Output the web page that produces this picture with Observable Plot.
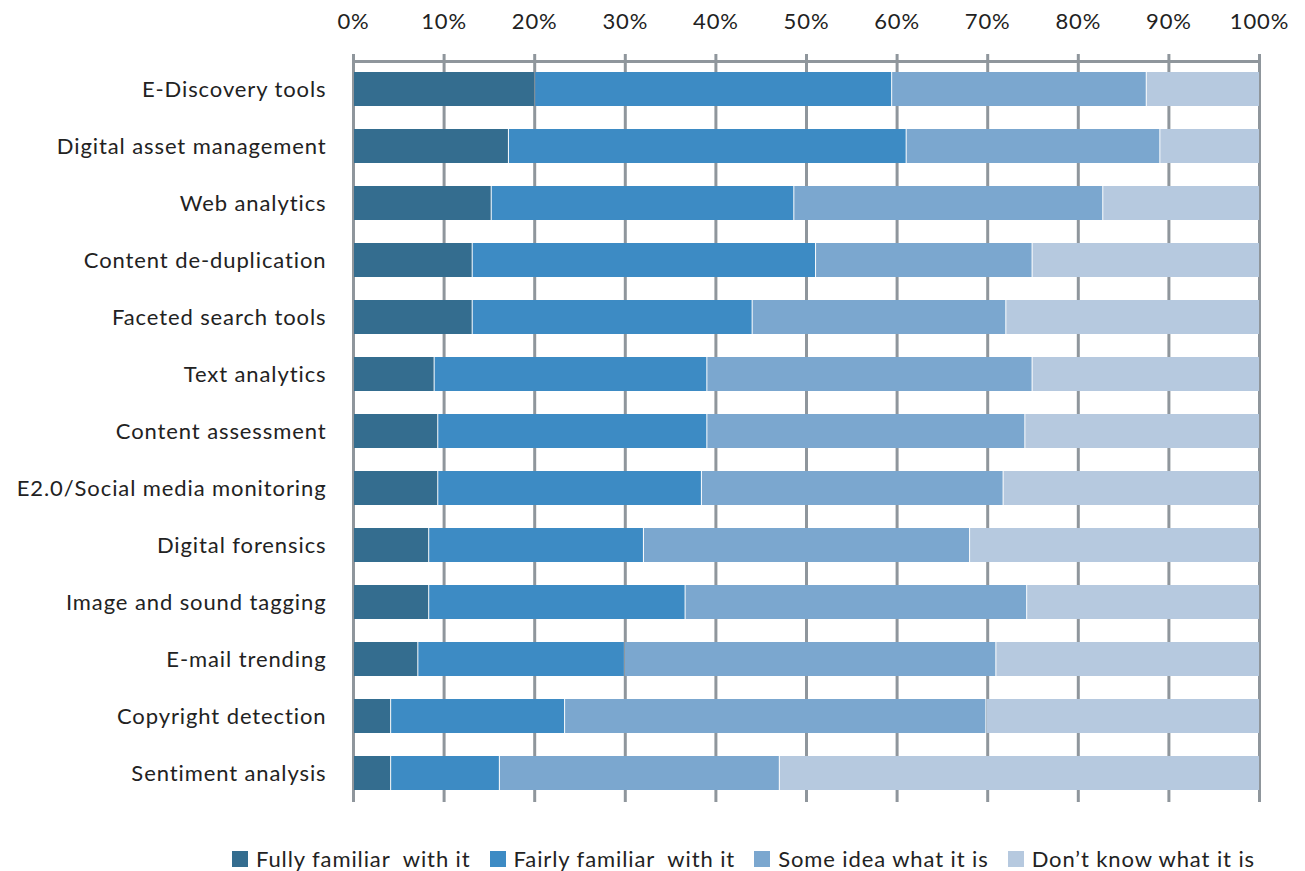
<!DOCTYPE html>
<html>
<head>
<meta charset="utf-8">
<script src="https://cdn.jsdelivr.net/npm/d3@7"></script>
<script src="https://cdn.jsdelivr.net/npm/@observablehq/plot@0.6"></script>
<style>
  body { margin: 0; background: #fff; font-family: Lato, "Open Sans", sans-serif; }
  #legend { position: absolute; top: 845px; left: 0; width: 1305px; display: flex; justify-content: flex-end; padding-right: 50px; box-sizing: border-box; font-size: 22px; letter-spacing: 0.9px; color: #222; }
  #legend .item { display: flex; align-items: center; margin-left: 19px; }
  #legend .sw { width: 16px; height: 16px; margin-right: 8px; }
</style>
</head>
<body>
<div id="chart"></div>
<div id="legend"></div>
<script>
const categories = [
  "E-Discovery tools", "Digital asset management", "Web analytics", "Content de-duplication",
  "Faceted search tools", "Text analytics", "Content assessment", "E2.0/Social media monitoring",
  "Digital forensics", "Image and sound tagging", "E-mail trending", "Copyright detection", "Sentiment analysis"
];
const seriesNames = ["Fully familiar  with it", "Fairly familiar  with it", "Some idea what it is", "Don\u2019t know what it is"];
const colors = ["#346d8f", "#3d8bc4", "#7ba7cf", "#b6c9df"];
const fully  = [20.0, 17.1, 15.2, 13.1, 13.1, 8.9, 9.3, 9.3, 8.3, 8.3, 7.1, 4.1, 4.1];
const fairly = [39.4, 43.9, 33.4, 37.9, 30.9, 30.1, 29.7, 29.1, 23.7, 28.3, 22.8, 19.2, 12.0];
const some   = [28.1, 28.0, 34.1, 23.9, 28.0, 35.9, 35.1, 33.3, 36.0, 37.7, 41.0, 46.5, 30.9];
const dontKnow = categories.map((c, i) => +(100 - fully[i] - fairly[i] - some[i]).toFixed(1));
const xTicks = [0, 10, 20, 30, 40, 50, 60, 70, 80, 90, 100];

const seriesValues = [fully, fairly, some, dontKnow];
const data = [];
categories.forEach((cat, i) => {
  seriesNames.forEach((s, j) => data.push({category: cat, series: s, value: seriesValues[j][i]}));
});

const grid = "#8f969c";
const plot = Plot.plot({
  width: 1305,
  height: 830,
  marginLeft: 353,
  marginRight: 46,
  marginTop: 61,
  marginBottom: 28,
  style: {fontFamily: "Lato, 'Open Sans', sans-serif", fontSize: "22px", letterSpacing: "0.9px", color: "#222", background: "#fff"},
  x: {domain: [0, 100], ticks: xTicks, axis: null, label: null},
  y: {domain: categories, paddingInner: 0.4, paddingOuter: 0.2, axis: null, label: null},
  color: {domain: seriesNames, range: colors},
  marks: [
    Plot.gridX(xTicks, {stroke: grid, strokeOpacity: 1, strokeWidth: 3}),
    Plot.frame({anchor: "top", stroke: grid, strokeWidth: 3}),
    Plot.axisX(xTicks, {anchor: "top", label: null, tickSize: 8, tickPadding: 25, stroke: grid, strokeWidth: 3, fill: "#222", tickFormat: d => d + "%"}),
    Plot.barX(data, Plot.stackX({x: "value", y: "category", fill: "series", order: seriesNames, inset: 0, insetLeft: 1})),
    Plot.axisY({label: null, tickSize: 0, tickPadding: 27, fill: "#222"})
  ]
});
document.getElementById("chart").appendChild(plot);

const legend = document.getElementById("legend");
seriesNames.forEach((s, j) => {
  const item = document.createElement("div");
  item.className = "item";
  const sw = document.createElement("div");
  sw.className = "sw";
  sw.style.background = colors[j];
  const t = document.createElement("span");
  t.textContent = s;
  t.style.whiteSpace = "pre";
  item.appendChild(sw);
  item.appendChild(t);
  legend.appendChild(item);
});
</script>
</body>
</html>
